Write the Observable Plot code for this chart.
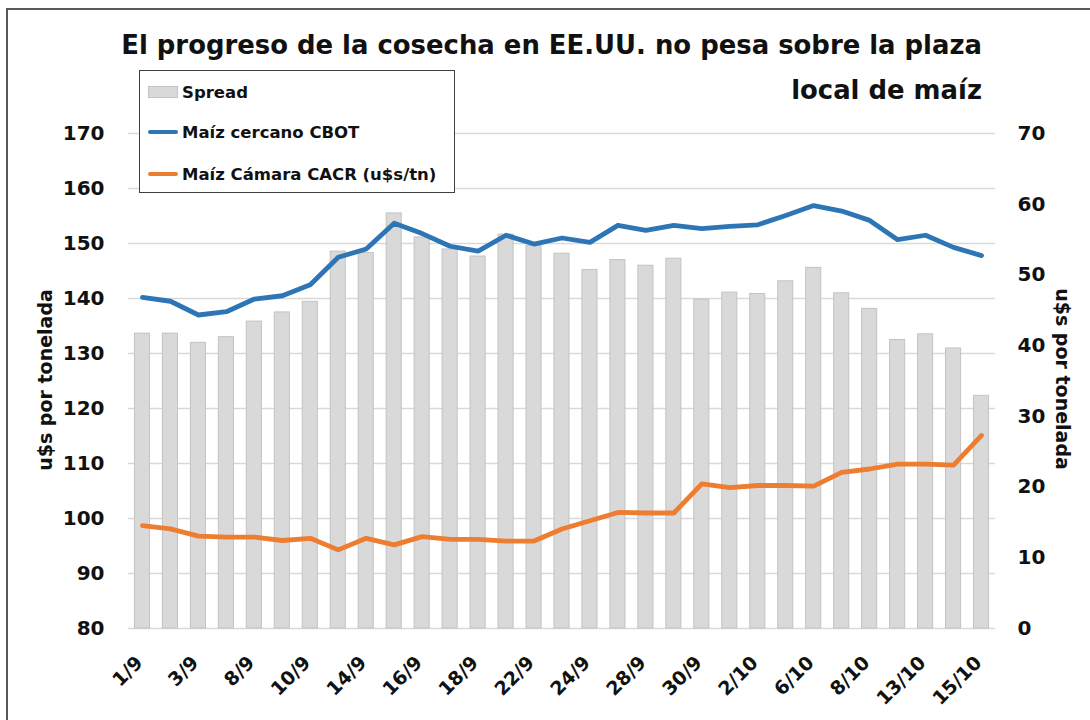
<!DOCTYPE html>
<html>
<head>
<meta charset="utf-8">
<script src="https://cdn.jsdelivr.net/npm/d3@7"></script>
<script src="https://cdn.jsdelivr.net/npm/@observablehq/plot@0.6"></script>
<style>
  body { margin: 0; background: #fff; }
  #wrap { position: relative; width: 1090px; height: 720px; overflow: hidden; font-family: "DejaVu Sans", sans-serif; font-weight: bold; color: #111; }
  #frame { position: absolute; left: 6px; top: 8px; width: 1200px; height: 800px; border-left: 2px solid #595959; border-top: 2px solid #595959; }
  #chart { position: absolute; left: 0; top: 0; }
  #title { position: absolute; right: 108px; top: 23px; text-align: right; font-size: 25.9px; line-height: 45px; white-space: nowrap; color: #111; }
  #legend { position: absolute; left: 139px; top: 70px; width: 314px; height: 121px; border: 1.5px solid #404040; background: #fff; }
  .item { position: absolute; left: 8px; height: 20px; display: flex; align-items: center; font-size: 16.5px; white-space: nowrap; color: #111; }
  .sw { width: 30px; margin-right: 4px; }
  .ylab { position: absolute; font-size: 19px; white-space: nowrap; color: #111; }
</style>
</head>
<body>
<div id="wrap">
  <div id="frame"></div>
  <div id="chart"></div>
  <div id="title">El progreso de la cosecha en EE.UU. no pesa sobre la plaza<br>local de maíz</div>
  <div id="legend"></div>
  <div class="ylab" id="ylabL">u$s por tonelada</div>
  <div class="ylab" id="ylabR">u$s por tonelada</div>
</div>
<script>
// ---- data ----
const dates = ["1/9","2/9","3/9","4/9","8/9","9/9","10/9","11/9","14/9","15/9","16/9","17/9","18/9","21/9","22/9","23/9","24/9","25/9","28/9","29/9","30/9","1/10","2/10","5/10","6/10","7/10","8/10","9/10","13/10","14/10","15/10"];
const cbot = [140.2,139.5,137.0,137.6,139.9,140.5,142.5,147.5,149.0,153.7,151.8,149.5,148.6,151.5,149.9,151.0,150.2,153.3,152.4,153.3,152.7,153.1,153.4,155.1,156.9,155.9,154.2,150.7,151.5,149.3,147.8];
const cacr = [98.7,98.1,96.8,96.6,96.6,96.0,96.4,94.3,96.4,95.2,96.7,96.2,96.2,95.9,95.9,98.1,99.6,101.1,101.0,101.0,106.3,105.6,106.0,106.0,105.9,108.4,109.0,109.9,109.9,109.7,115.1];
const spread = [41.7,41.7,40.4,41.2,43.4,44.7,46.2,53.3,53.1,58.7,55.3,53.6,52.6,55.7,54.1,53.0,50.7,52.1,51.3,52.3,46.5,47.5,47.3,49.1,51.0,47.4,45.2,40.8,41.6,39.6,32.9];
const xTickLabels = ["1/9","3/9","8/9","10/9","14/9","16/9","18/9","22/9","24/9","28/9","30/9","2/10","6/10","8/10","13/10","15/10"];
const leftTicks = [80,90,100,110,120,130,140,150,160,170];
const rightTicks = [0,10,20,30,40,50,60,70];
const seriesNames = ["Spread","Maíz cercano CBOT","Maíz Cámara CACR (u$s/tn)"];
const colors = { spread: "#d9d9d9", cbot: "#2e75b6", cacr: "#ed7d31" };

// right axis (0..70) mapped onto left axis (80..170)
const L0 = 80, L1 = 170, R0 = 0, R1 = 70;
const toLeft = v => L0 + (v - R0) * (L1 - L0) / (R1 - R0);
const toRight = v => (v - L0) * (R1 - R0) / (L1 - L0) + R0;

const rows = dates.map((d, i) => ({date: d, cbot: cbot[i], cacr: cacr[i], spread: spread[i], spreadL: toLeft(spread[i])}));

const plot = Plot.plot({
  width: 1090,
  height: 720,
  marginTop: 133,
  marginBottom: 92,
  marginLeft: 128,
  marginRight: 95,
  style: { fontFamily: "DejaVu Sans, sans-serif", fontWeight: "bold", fontSize: "20px", color: "#111", background: "transparent" },
  x: { domain: dates, paddingInner: 0.46, paddingOuter: 0.23, round: false, label: null },
  y: { domain: [L0, L1], label: null },
  marks: [
    Plot.gridY(leftTicks, { stroke: "#d9d9d9", strokeOpacity: 1, strokeWidth: 1.5 }),
    Plot.barY(rows, { x: "date", y1: L0, y2: "spreadL", fill: colors.spread, stroke: "#c3c3c3", strokeWidth: 1 }),
    Plot.line(rows, { x: "date", y: "cbot", stroke: colors.cbot, strokeWidth: 4.8, strokeLinejoin: "round", strokeLinecap: "round" }),
    Plot.line(rows, { x: "date", y: "cacr", stroke: colors.cacr, strokeWidth: 4.8, strokeLinejoin: "round", strokeLinecap: "round" }),
    Plot.axisY(leftTicks, { anchor: "left", tickSize: 0, tickPadding: 24, fontSize: 20, label: null }),
    Plot.axisY(rightTicks.map(toLeft), { anchor: "right", tickSize: 0, tickPadding: 22, fontSize: 20, label: null, tickFormat: d => Math.round(toRight(d)) }),
    Plot.axisX(xTickLabels, { anchor: "bottom", tickSize: 0, tickRotate: -45, tickPadding: 31, dx: -3, fontSize: 19, label: null })
  ]
});
document.getElementById("chart").appendChild(plot);

// legend
const leg = document.getElementById("legend");
const items = [
  { name: seriesNames[0], type: "box", color: colors.spread, top: 11 },
  { name: seriesNames[1], type: "line", color: colors.cbot, top: 51 },
  { name: seriesNames[2], type: "line", color: colors.cacr, top: 93 }
];
items.forEach(it => {
  const div = document.createElement("div");
  div.className = "item";
  div.style.top = it.top + "px";
  const sw = document.createElement("div");
  sw.className = "sw";
  if (it.type === "box") { sw.style.height = "12px"; sw.style.background = it.color; sw.style.border = "1px solid #c3c3c3"; sw.style.boxSizing = "border-box"; }
  else { sw.style.height = "4px"; sw.style.background = it.color; sw.style.borderRadius = "2px"; }
  div.appendChild(sw);
  const t = document.createElement("span");
  t.textContent = it.name;
  div.appendChild(t);
  leg.appendChild(div);
});

// axis titles
function placeTitle(id, cx, cy, rot) {
  const el = document.getElementById(id);
  const w = el.offsetWidth, h = el.offsetHeight;
  el.style.left = (cx - w / 2) + "px";
  el.style.top = (cy - h / 2) + "px";
  el.style.transform = `rotate(${rot}deg)`;
}
placeTitle("ylabL", 45, 380, -90);
placeTitle("ylabR", 1063, 379, 90);
</script>
</body>
</html>
